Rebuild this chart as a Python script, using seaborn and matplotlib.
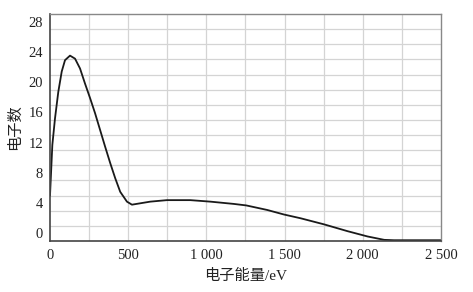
import matplotlib
matplotlib.use("Agg")
import matplotlib.pyplot as plt
import seaborn as sns
import pandas as pd
from matplotlib.ticker import FixedLocator, FuncFormatter

# Data
energy = [0, 15, 32, 53, 75, 96, 128, 160, 192, 224, 256, 288, 320, 352, 385,
          417, 449, 492, 524, 641, 748, 897, 1026, 1175, 1255, 1389, 1496,
          1603, 1752, 1902, 2030, 2137, 2200, 2350, 2500]
count = [5.0, 11.7, 15.2, 18.7, 21.4, 22.9, 23.5, 23.1, 21.8, 19.8, 17.9,
         15.9, 13.7, 11.5, 9.3, 7.3, 5.5, 4.2, 3.8, 4.2, 4.4, 4.4, 4.2, 3.9,
         3.7, 3.1, 2.5, 2.0, 1.2, 0.3, -0.4, -0.85, -0.9, -0.9, -0.9]
x_ticks = [0, 500, 1000, 1500, 2000, 2500]
x_tick_labels = ["0", "500", "1 000", "1 500", "2 000", "2 500"]
y_ticks = [0, 4, 8, 12, 16, 20, 24, 28]
x_label = "电子能量/eV"
y_label = "电子数"

sns.set_style("white")
plt.rcParams['font.family'] = ['Liberation Serif', 'Noto Sans CJK SC']

df = pd.DataFrame({"energy": energy, "count": count})

fig = plt.figure(figsize=(4.73, 2.92), dpi=100)
ax = fig.add_axes([0.1057, 0.1747, 0.8266, 0.7773])

sns.lineplot(data=df, x="energy", y="count", ax=ax, color="#1a1a1a",
             linewidth=1.3, sort=False)

ax.set_xlim(0, 2500)
ax.set_ylim(-1, 29)

ax.xaxis.set_major_locator(FixedLocator(x_ticks))
ax.xaxis.set_major_formatter(FuncFormatter(
    lambda v, p: x_tick_labels[x_ticks.index(int(round(v)))] if int(round(v)) in x_ticks else ""))
ax.yaxis.set_major_locator(FixedLocator(y_ticks))

# grid lines
ax.xaxis.remove_overlapping_locs = False
ax.xaxis.set_minor_locator(FixedLocator([250 * i for i in range(1, 10)]))
ax.yaxis.set_minor_locator(FixedLocator([2 * i + 1 for i in range(14)]))
ax.grid(False)
ax.grid(which="minor", axis="both", color="#d4d4d4", linewidth=0.9)
ax.set_axisbelow(True)

ax.tick_params(which="both", length=0)
ax.tick_params(axis="y", pad=5, labelsize=10.5, colors="#222222")
ax.tick_params(axis="x", pad=6, labelsize=10.5, colors="#222222")

for s in ["left", "bottom"]:
    ax.spines[s].set_color("#444444")
    ax.spines[s].set_linewidth(1.2)
for s in ["top", "right"]:
    ax.spines[s].set_visible(True)
    ax.spines[s].set_color("#888888")
    ax.spines[s].set_linewidth(1.0)

ax.set_xlabel(x_label, fontsize=11, color="#222222", labelpad=5)
ax.set_ylabel(y_label, fontsize=11, color="#222222", labelpad=5)

fig.savefig("out.png", dpi=100)
